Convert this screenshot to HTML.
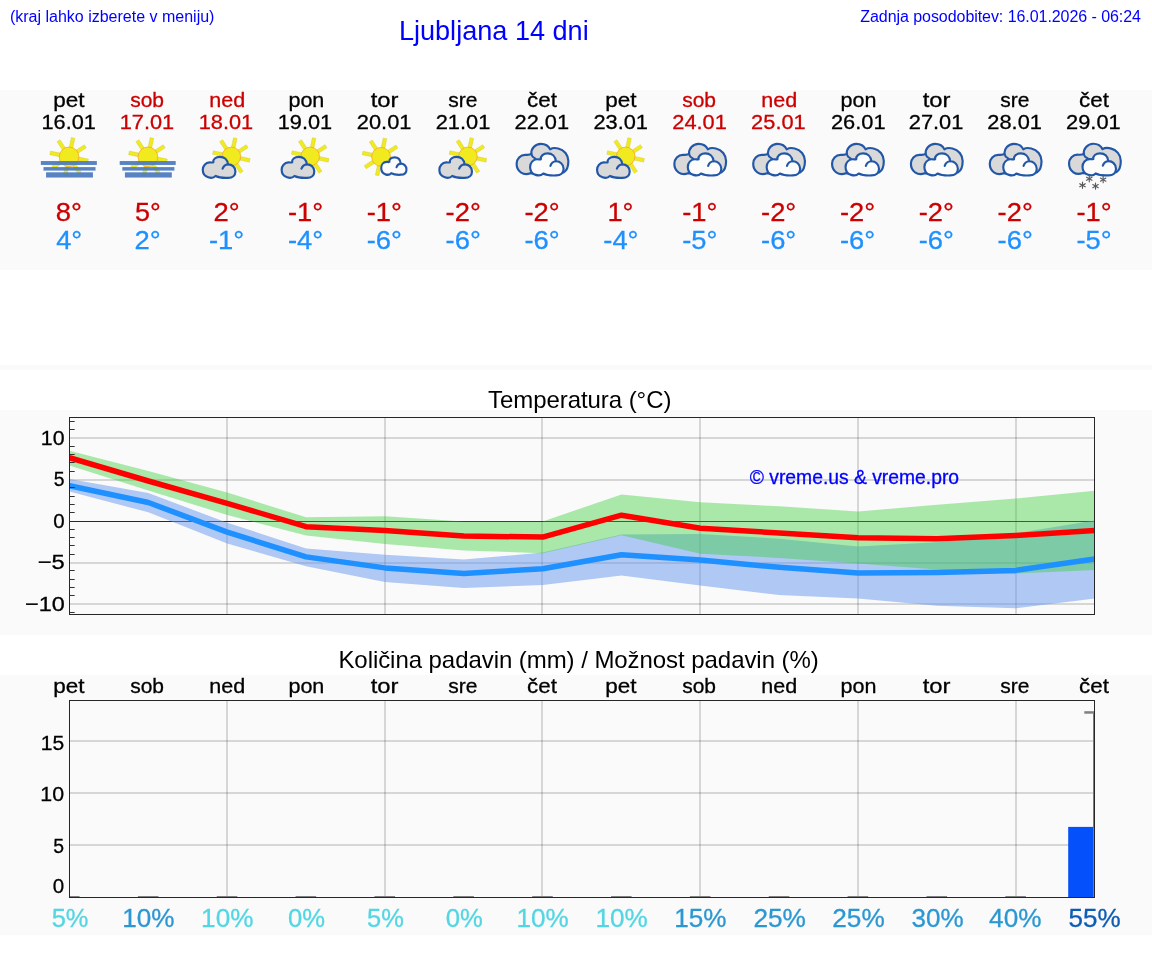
<!DOCTYPE html>
<html lang="sl"><head><meta charset="utf-8"><title>Ljubljana 14 dni</title>
<style>
html,body{margin:0;padding:0;background:#fff}
body{width:1152px;height:975px;position:relative;overflow:hidden;font-family:"Liberation Sans",sans-serif;color:#000}
.a{position:absolute;white-space:nowrap;line-height:1}
.hint{left:9.9px;top:9px;font-size:16px;color:#0000ff}
.upd{left:860.3px;top:9px;font-size:16px;letter-spacing:-.06px;color:#0000ff}
.city{left:398.9px;top:17.4px;font-size:27.1px;color:#0000ff}
.t{font-size:24px;letter-spacing:-.06px;color:#000;z-index:3}
#page{position:absolute;left:0;top:0;width:1152px;height:975px;will-change:transform}
svg{position:absolute;left:0;display:block}
svg text{font-family:"Liberation Sans",sans-serif;stroke-width:.3px}
.strip{left:0;top:365px;width:1152px;height:5px;background:#fafafa}
</style></head><body><div id="page">
<div class="a hint">(kraj lahko izberete v meniju)</div>
<div class="a city">Ljubljana 14 dni</div>
<div class="a upd">Zadnja posodobitev: 16.01.2026 - 06:24</div>
<svg style="top:90px" width="1152" height="180" viewBox="0 90 1152 180"><rect x="0" y="90" width="1152" height="180" fill="#fafafa"/><text x="53.24" y="106.5" font-size="20.5" fill="#000" stroke="#000" textLength="31.25" lengthAdjust="spacingAndGlyphs">pet</text><text x="41.53" y="129.2" font-size="20.9" fill="#000" stroke="#000" textLength="54.45" lengthAdjust="spacingAndGlyphs">16.01</text><g transform="translate(30 135) scale(0.08681)"><rect x="111" y="-21" width="112" height="42" fill="#f0ea1e" stroke="#c9c43a" stroke-width="4" transform="translate(450 252) rotate(12)"/><rect x="111" y="-21" width="112" height="42" fill="#f0ea1e" stroke="#c9c43a" stroke-width="4" transform="translate(450 252) rotate(57)"/><rect x="111" y="-21" width="112" height="42" fill="#f0ea1e" stroke="#c9c43a" stroke-width="4" transform="translate(450 252) rotate(102)"/><rect x="111" y="-21" width="112" height="42" fill="#f0ea1e" stroke="#c9c43a" stroke-width="4" transform="translate(450 252) rotate(147)"/><rect x="111" y="-21" width="112" height="42" fill="#f0ea1e" stroke="#c9c43a" stroke-width="4" transform="translate(450 252) rotate(192)"/><rect x="111" y="-21" width="112" height="42" fill="#f0ea1e" stroke="#c9c43a" stroke-width="4" transform="translate(450 252) rotate(237)"/><rect x="111" y="-21" width="112" height="42" fill="#f0ea1e" stroke="#c9c43a" stroke-width="4" transform="translate(450 252) rotate(282)"/><rect x="111" y="-21" width="112" height="42" fill="#f0ea1e" stroke="#c9c43a" stroke-width="4" transform="translate(450 252) rotate(327)"/><circle cx="450" cy="252" r="113" fill="#f0ea1e" stroke="#f6a723" stroke-width="9"/><rect x="125" y="300" width="645" height="45" fill="#4a7abf" opacity=".93"/><rect x="155" y="370" width="600" height="40" fill="#4a7abf" opacity=".93"/><rect x="185" y="430" width="540" height="60" fill="#4a7abf" opacity=".93"/></g><text x="55.83" y="220.8" font-size="25.9" fill="#cc0000" stroke="#cc0000" textLength="26.17" lengthAdjust="spacingAndGlyphs">8°</text><text x="56.19" y="249" font-size="25.9" fill="#1e90ff" stroke="#1e90ff" textLength="26.01" lengthAdjust="spacingAndGlyphs">4°</text><text x="130.2" y="106.5" font-size="20.5" fill="#cc0000" stroke="#cc0000" textLength="33.79" lengthAdjust="spacingAndGlyphs">sob</text><text x="119.69" y="129.2" font-size="20.9" fill="#cc0000" stroke="#cc0000" textLength="54.45" lengthAdjust="spacingAndGlyphs">17.01</text><g transform="translate(108.86 135) scale(0.08681)"><rect x="111" y="-21" width="112" height="42" fill="#f0ea1e" stroke="#c9c43a" stroke-width="4" transform="translate(450 252) rotate(12)"/><rect x="111" y="-21" width="112" height="42" fill="#f0ea1e" stroke="#c9c43a" stroke-width="4" transform="translate(450 252) rotate(57)"/><rect x="111" y="-21" width="112" height="42" fill="#f0ea1e" stroke="#c9c43a" stroke-width="4" transform="translate(450 252) rotate(102)"/><rect x="111" y="-21" width="112" height="42" fill="#f0ea1e" stroke="#c9c43a" stroke-width="4" transform="translate(450 252) rotate(147)"/><rect x="111" y="-21" width="112" height="42" fill="#f0ea1e" stroke="#c9c43a" stroke-width="4" transform="translate(450 252) rotate(192)"/><rect x="111" y="-21" width="112" height="42" fill="#f0ea1e" stroke="#c9c43a" stroke-width="4" transform="translate(450 252) rotate(237)"/><rect x="111" y="-21" width="112" height="42" fill="#f0ea1e" stroke="#c9c43a" stroke-width="4" transform="translate(450 252) rotate(282)"/><rect x="111" y="-21" width="112" height="42" fill="#f0ea1e" stroke="#c9c43a" stroke-width="4" transform="translate(450 252) rotate(327)"/><circle cx="450" cy="252" r="113" fill="#f0ea1e" stroke="#f6a723" stroke-width="9"/><rect x="125" y="300" width="645" height="45" fill="#4a7abf" opacity=".93"/><rect x="155" y="370" width="600" height="40" fill="#4a7abf" opacity=".93"/><rect x="185" y="430" width="540" height="60" fill="#4a7abf" opacity=".93"/></g><text x="134.92" y="220.8" font-size="25.9" fill="#cc0000" stroke="#cc0000" textLength="25.8" lengthAdjust="spacingAndGlyphs">5°</text><text x="134.59" y="249" font-size="25.9" fill="#1e90ff" stroke="#1e90ff" textLength="26.2" lengthAdjust="spacingAndGlyphs">2°</text><text x="209.23" y="106.5" font-size="20.5" fill="#cc0000" stroke="#cc0000" textLength="35.95" lengthAdjust="spacingAndGlyphs">ned</text><text x="198.7" y="129.2" font-size="20.9" fill="#cc0000" stroke="#cc0000" textLength="54.45" lengthAdjust="spacingAndGlyphs">18.01</text><g transform="translate(190.02 135) scale(0.08681)"><rect x="105" y="-21" width="112" height="42" fill="#f0ea1e" stroke="#c9c43a" stroke-width="4" transform="translate(476 247) rotate(12)"/><rect x="105" y="-21" width="112" height="42" fill="#f0ea1e" stroke="#c9c43a" stroke-width="4" transform="translate(476 247) rotate(57)"/><rect x="105" y="-21" width="112" height="42" fill="#f0ea1e" stroke="#c9c43a" stroke-width="4" transform="translate(476 247) rotate(102)"/><rect x="105" y="-21" width="112" height="42" fill="#f0ea1e" stroke="#c9c43a" stroke-width="4" transform="translate(476 247) rotate(147)"/><rect x="105" y="-21" width="112" height="42" fill="#f0ea1e" stroke="#c9c43a" stroke-width="4" transform="translate(476 247) rotate(192)"/><rect x="105" y="-21" width="112" height="42" fill="#f0ea1e" stroke="#c9c43a" stroke-width="4" transform="translate(476 247) rotate(237)"/><rect x="105" y="-21" width="112" height="42" fill="#f0ea1e" stroke="#c9c43a" stroke-width="4" transform="translate(476 247) rotate(282)"/><rect x="105" y="-21" width="112" height="42" fill="#f0ea1e" stroke="#c9c43a" stroke-width="4" transform="translate(476 247) rotate(327)"/><circle cx="476" cy="247" r="107" fill="#f0ea1e" stroke="#f6a723" stroke-width="9"/><g transform="translate(0 0) scale(1.0000 1.0000)"><path d="M295 472C275 492 240 497 210 487C170 475 147 440 147 400C147 355 180 318 225 316C243 315 258 320 268 315C262 280 295 252 345 252C395 252 432 285 437 338C480 335 523 370 523 420C523 465 490 493 440 493C400 495 340 495 295 472Z" fill="#d9d9d9" stroke="#2257a8" stroke-width="25" stroke-linejoin="round"/><path d="M437 338C410 340 385 360 375 388" fill="none" stroke="#2257a8" stroke-width="25" stroke-linecap="round"/></g></g><text x="213.45" y="220.8" font-size="25.9" fill="#cc0000" stroke="#cc0000" textLength="26.2" lengthAdjust="spacingAndGlyphs">2°</text><text x="209.04" y="249" font-size="25.9" fill="#1e90ff" stroke="#1e90ff" textLength="35.2" lengthAdjust="spacingAndGlyphs">-1°</text><text x="288.43" y="106.5" font-size="20.5" fill="#000" stroke="#000" textLength="35.94" lengthAdjust="spacingAndGlyphs">pon</text><text x="277.76" y="129.2" font-size="20.9" fill="#000" stroke="#000" textLength="54.45" lengthAdjust="spacingAndGlyphs">19.01</text><g transform="translate(268.88 135) scale(0.08681)"><rect x="105" y="-21" width="112" height="42" fill="#f0ea1e" stroke="#c9c43a" stroke-width="4" transform="translate(476 247) rotate(12)"/><rect x="105" y="-21" width="112" height="42" fill="#f0ea1e" stroke="#c9c43a" stroke-width="4" transform="translate(476 247) rotate(57)"/><rect x="105" y="-21" width="112" height="42" fill="#f0ea1e" stroke="#c9c43a" stroke-width="4" transform="translate(476 247) rotate(102)"/><rect x="105" y="-21" width="112" height="42" fill="#f0ea1e" stroke="#c9c43a" stroke-width="4" transform="translate(476 247) rotate(147)"/><rect x="105" y="-21" width="112" height="42" fill="#f0ea1e" stroke="#c9c43a" stroke-width="4" transform="translate(476 247) rotate(192)"/><rect x="105" y="-21" width="112" height="42" fill="#f0ea1e" stroke="#c9c43a" stroke-width="4" transform="translate(476 247) rotate(237)"/><rect x="105" y="-21" width="112" height="42" fill="#f0ea1e" stroke="#c9c43a" stroke-width="4" transform="translate(476 247) rotate(282)"/><rect x="105" y="-21" width="112" height="42" fill="#f0ea1e" stroke="#c9c43a" stroke-width="4" transform="translate(476 247) rotate(327)"/><circle cx="476" cy="247" r="107" fill="#f0ea1e" stroke="#f6a723" stroke-width="9"/><g transform="translate(0 0) scale(1.0000 1.0000)"><path d="M295 472C275 492 240 497 210 487C170 475 147 440 147 400C147 355 180 318 225 316C243 315 258 320 268 315C262 280 295 252 345 252C395 252 432 285 437 338C480 335 523 370 523 420C523 465 490 493 440 493C400 495 340 495 295 472Z" fill="#d9d9d9" stroke="#2257a8" stroke-width="25" stroke-linejoin="round"/><path d="M437 338C410 340 385 360 375 388" fill="none" stroke="#2257a8" stroke-width="25" stroke-linecap="round"/></g></g><text x="287.9" y="220.8" font-size="25.9" fill="#cc0000" stroke="#cc0000" textLength="35.2" lengthAdjust="spacingAndGlyphs">-1°</text><text x="287.9" y="249" font-size="25.9" fill="#1e90ff" stroke="#1e90ff" textLength="35.2" lengthAdjust="spacingAndGlyphs">-4°</text><text x="370.67" y="106.5" font-size="20.5" fill="#000" stroke="#000" textLength="27.76" lengthAdjust="spacingAndGlyphs">tor</text><text x="356.84" y="129.2" font-size="20.9" fill="#000" stroke="#000" textLength="54.58" lengthAdjust="spacingAndGlyphs">20.01</text><g transform="translate(345.04 135) scale(0.08681)"><rect x="106" y="-21" width="112" height="42" fill="#f0ea1e" stroke="#c9c43a" stroke-width="4" transform="translate(415 252) rotate(12)"/><rect x="106" y="-21" width="112" height="42" fill="#f0ea1e" stroke="#c9c43a" stroke-width="4" transform="translate(415 252) rotate(57)"/><rect x="106" y="-21" width="112" height="42" fill="#f0ea1e" stroke="#c9c43a" stroke-width="4" transform="translate(415 252) rotate(102)"/><rect x="106" y="-21" width="112" height="42" fill="#f0ea1e" stroke="#c9c43a" stroke-width="4" transform="translate(415 252) rotate(147)"/><rect x="106" y="-21" width="112" height="42" fill="#f0ea1e" stroke="#c9c43a" stroke-width="4" transform="translate(415 252) rotate(192)"/><rect x="106" y="-21" width="112" height="42" fill="#f0ea1e" stroke="#c9c43a" stroke-width="4" transform="translate(415 252) rotate(237)"/><rect x="106" y="-21" width="112" height="42" fill="#f0ea1e" stroke="#c9c43a" stroke-width="4" transform="translate(415 252) rotate(282)"/><rect x="106" y="-21" width="112" height="42" fill="#f0ea1e" stroke="#c9c43a" stroke-width="4" transform="translate(415 252) rotate(327)"/><circle cx="415" cy="252" r="108" fill="#f0ea1e" stroke="#f6a723" stroke-width="9"/><g transform="translate(303.32 47) scale(0.7733 0.8333)"><path d="M295 472C275 492 240 497 210 487C170 475 147 440 147 400C147 355 180 318 225 316C243 315 258 320 268 315C262 280 295 252 345 252C395 252 432 285 437 338C480 335 523 370 523 420C523 465 490 493 440 493C400 495 340 495 295 472Z" fill="#fcfcfc" stroke="#2257a8" stroke-width="31.12" stroke-linejoin="round"/><path d="M437 338C410 340 385 360 375 388" fill="none" stroke="#2257a8" stroke-width="31.12" stroke-linecap="round"/></g></g><text x="366.76" y="220.8" font-size="25.9" fill="#cc0000" stroke="#cc0000" textLength="35.2" lengthAdjust="spacingAndGlyphs">-1°</text><text x="366.76" y="249" font-size="25.9" fill="#1e90ff" stroke="#1e90ff" textLength="35.2" lengthAdjust="spacingAndGlyphs">-6°</text><text x="448.27" y="106.5" font-size="20.5" fill="#000" stroke="#000" textLength="29.12" lengthAdjust="spacingAndGlyphs">sre</text><text x="435.7" y="129.2" font-size="20.9" fill="#000" stroke="#000" textLength="54.58" lengthAdjust="spacingAndGlyphs">21.01</text><g transform="translate(426.6 135) scale(0.08681)"><rect x="105" y="-21" width="112" height="42" fill="#f0ea1e" stroke="#c9c43a" stroke-width="4" transform="translate(476 247) rotate(12)"/><rect x="105" y="-21" width="112" height="42" fill="#f0ea1e" stroke="#c9c43a" stroke-width="4" transform="translate(476 247) rotate(57)"/><rect x="105" y="-21" width="112" height="42" fill="#f0ea1e" stroke="#c9c43a" stroke-width="4" transform="translate(476 247) rotate(102)"/><rect x="105" y="-21" width="112" height="42" fill="#f0ea1e" stroke="#c9c43a" stroke-width="4" transform="translate(476 247) rotate(147)"/><rect x="105" y="-21" width="112" height="42" fill="#f0ea1e" stroke="#c9c43a" stroke-width="4" transform="translate(476 247) rotate(192)"/><rect x="105" y="-21" width="112" height="42" fill="#f0ea1e" stroke="#c9c43a" stroke-width="4" transform="translate(476 247) rotate(237)"/><rect x="105" y="-21" width="112" height="42" fill="#f0ea1e" stroke="#c9c43a" stroke-width="4" transform="translate(476 247) rotate(282)"/><rect x="105" y="-21" width="112" height="42" fill="#f0ea1e" stroke="#c9c43a" stroke-width="4" transform="translate(476 247) rotate(327)"/><circle cx="476" cy="247" r="107" fill="#f0ea1e" stroke="#f6a723" stroke-width="9"/><g transform="translate(0 0) scale(1.0000 1.0000)"><path d="M295 472C275 492 240 497 210 487C170 475 147 440 147 400C147 355 180 318 225 316C243 315 258 320 268 315C262 280 295 252 345 252C395 252 432 285 437 338C480 335 523 370 523 420C523 465 490 493 440 493C400 495 340 495 295 472Z" fill="#d9d9d9" stroke="#2257a8" stroke-width="25" stroke-linejoin="round"/><path d="M437 338C410 340 385 360 375 388" fill="none" stroke="#2257a8" stroke-width="25" stroke-linecap="round"/></g></g><text x="445.62" y="220.8" font-size="25.9" fill="#cc0000" stroke="#cc0000" textLength="35.2" lengthAdjust="spacingAndGlyphs">-2°</text><text x="445.62" y="249" font-size="25.9" fill="#1e90ff" stroke="#1e90ff" textLength="35.2" lengthAdjust="spacingAndGlyphs">-6°</text><text x="527.04" y="106.5" font-size="20.5" fill="#000" stroke="#000" textLength="29.84" lengthAdjust="spacingAndGlyphs">čet</text><text x="514.56" y="129.2" font-size="20.9" fill="#000" stroke="#000" textLength="54.58" lengthAdjust="spacingAndGlyphs">22.01</text><g transform="translate(499.96 135) scale(0.08681)"><path d="M350 440C320 452 270 450 240 430C205 405 192 370 192 330C192 275 235 228 290 228C320 228 345 232 362 218C355 160 405 102 470 102C520 102 560 125 578 165C600 150 640 148 670 155C740 170 788 230 788 300C788 360 770 410 735 430L540 445Z" fill="#d9d9d9" stroke="#2257a8" stroke-width="25" stroke-linejoin="round"/><path d="M362 218C368 248 385 264 410 272" fill="none" stroke="#2257a8" stroke-width="22" stroke-linecap="round"/><g transform="translate(196.09 -53.48) scale(1.0266 1.0535)"><path d="M295 472C275 492 240 497 210 487C170 475 147 440 147 400C147 355 180 318 225 316C243 315 258 320 268 315C262 280 295 252 345 252C395 252 432 285 437 338C480 335 523 370 523 420C523 465 490 493 440 493C400 495 340 495 295 472Z" fill="#fcfcfc" stroke="#2257a8" stroke-width="24.04" stroke-linejoin="round"/><path d="M437 338C410 340 385 360 375 388" fill="none" stroke="#2257a8" stroke-width="24.04" stroke-linecap="round"/></g></g><text x="524.48" y="220.8" font-size="25.9" fill="#cc0000" stroke="#cc0000" textLength="35.2" lengthAdjust="spacingAndGlyphs">-2°</text><text x="524.48" y="249" font-size="25.9" fill="#1e90ff" stroke="#1e90ff" textLength="35.2" lengthAdjust="spacingAndGlyphs">-6°</text><text x="605.26" y="106.5" font-size="20.5" fill="#000" stroke="#000" textLength="31.25" lengthAdjust="spacingAndGlyphs">pet</text><text x="593.42" y="129.2" font-size="20.9" fill="#000" stroke="#000" textLength="54.58" lengthAdjust="spacingAndGlyphs">23.01</text><g transform="translate(584.32 135) scale(0.08681)"><rect x="105" y="-21" width="112" height="42" fill="#f0ea1e" stroke="#c9c43a" stroke-width="4" transform="translate(476 247) rotate(12)"/><rect x="105" y="-21" width="112" height="42" fill="#f0ea1e" stroke="#c9c43a" stroke-width="4" transform="translate(476 247) rotate(57)"/><rect x="105" y="-21" width="112" height="42" fill="#f0ea1e" stroke="#c9c43a" stroke-width="4" transform="translate(476 247) rotate(102)"/><rect x="105" y="-21" width="112" height="42" fill="#f0ea1e" stroke="#c9c43a" stroke-width="4" transform="translate(476 247) rotate(147)"/><rect x="105" y="-21" width="112" height="42" fill="#f0ea1e" stroke="#c9c43a" stroke-width="4" transform="translate(476 247) rotate(192)"/><rect x="105" y="-21" width="112" height="42" fill="#f0ea1e" stroke="#c9c43a" stroke-width="4" transform="translate(476 247) rotate(237)"/><rect x="105" y="-21" width="112" height="42" fill="#f0ea1e" stroke="#c9c43a" stroke-width="4" transform="translate(476 247) rotate(282)"/><rect x="105" y="-21" width="112" height="42" fill="#f0ea1e" stroke="#c9c43a" stroke-width="4" transform="translate(476 247) rotate(327)"/><circle cx="476" cy="247" r="107" fill="#f0ea1e" stroke="#f6a723" stroke-width="9"/><g transform="translate(0 0) scale(1.0000 1.0000)"><path d="M295 472C275 492 240 497 210 487C170 475 147 440 147 400C147 355 180 318 225 316C243 315 258 320 268 315C262 280 295 252 345 252C395 252 432 285 437 338C480 335 523 370 523 420C523 465 490 493 440 493C400 495 340 495 295 472Z" fill="#d9d9d9" stroke="#2257a8" stroke-width="25" stroke-linejoin="round"/><path d="M437 338C410 340 385 360 375 388" fill="none" stroke="#2257a8" stroke-width="25" stroke-linecap="round"/></g></g><text x="607.47" y="220.8" font-size="25.9" fill="#cc0000" stroke="#cc0000" textLength="26.02" lengthAdjust="spacingAndGlyphs">1°</text><text x="603.34" y="249" font-size="25.9" fill="#1e90ff" stroke="#1e90ff" textLength="35.2" lengthAdjust="spacingAndGlyphs">-4°</text><text x="682.22" y="106.5" font-size="20.5" fill="#cc0000" stroke="#cc0000" textLength="33.79" lengthAdjust="spacingAndGlyphs">sob</text><text x="672.28" y="129.2" font-size="20.9" fill="#cc0000" stroke="#cc0000" textLength="54.58" lengthAdjust="spacingAndGlyphs">24.01</text><g transform="translate(657.68 135) scale(0.08681)"><path d="M350 440C320 452 270 450 240 430C205 405 192 370 192 330C192 275 235 228 290 228C320 228 345 232 362 218C355 160 405 102 470 102C520 102 560 125 578 165C600 150 640 148 670 155C740 170 788 230 788 300C788 360 770 410 735 430L540 445Z" fill="#d9d9d9" stroke="#2257a8" stroke-width="25" stroke-linejoin="round"/><path d="M362 218C368 248 385 264 410 272" fill="none" stroke="#2257a8" stroke-width="22" stroke-linecap="round"/><g transform="translate(196.09 -53.48) scale(1.0266 1.0535)"><path d="M295 472C275 492 240 497 210 487C170 475 147 440 147 400C147 355 180 318 225 316C243 315 258 320 268 315C262 280 295 252 345 252C395 252 432 285 437 338C480 335 523 370 523 420C523 465 490 493 440 493C400 495 340 495 295 472Z" fill="#fcfcfc" stroke="#2257a8" stroke-width="24.04" stroke-linejoin="round"/><path d="M437 338C410 340 385 360 375 388" fill="none" stroke="#2257a8" stroke-width="24.04" stroke-linecap="round"/></g></g><text x="682.2" y="220.8" font-size="25.9" fill="#cc0000" stroke="#cc0000" textLength="35.2" lengthAdjust="spacingAndGlyphs">-1°</text><text x="682.2" y="249" font-size="25.9" fill="#1e90ff" stroke="#1e90ff" textLength="35.2" lengthAdjust="spacingAndGlyphs">-5°</text><text x="761.25" y="106.5" font-size="20.5" fill="#cc0000" stroke="#cc0000" textLength="35.95" lengthAdjust="spacingAndGlyphs">ned</text><text x="751.14" y="129.2" font-size="20.9" fill="#cc0000" stroke="#cc0000" textLength="54.58" lengthAdjust="spacingAndGlyphs">25.01</text><g transform="translate(736.54 135) scale(0.08681)"><path d="M350 440C320 452 270 450 240 430C205 405 192 370 192 330C192 275 235 228 290 228C320 228 345 232 362 218C355 160 405 102 470 102C520 102 560 125 578 165C600 150 640 148 670 155C740 170 788 230 788 300C788 360 770 410 735 430L540 445Z" fill="#d9d9d9" stroke="#2257a8" stroke-width="25" stroke-linejoin="round"/><path d="M362 218C368 248 385 264 410 272" fill="none" stroke="#2257a8" stroke-width="22" stroke-linecap="round"/><g transform="translate(196.09 -53.48) scale(1.0266 1.0535)"><path d="M295 472C275 492 240 497 210 487C170 475 147 440 147 400C147 355 180 318 225 316C243 315 258 320 268 315C262 280 295 252 345 252C395 252 432 285 437 338C480 335 523 370 523 420C523 465 490 493 440 493C400 495 340 495 295 472Z" fill="#fcfcfc" stroke="#2257a8" stroke-width="24.04" stroke-linejoin="round"/><path d="M437 338C410 340 385 360 375 388" fill="none" stroke="#2257a8" stroke-width="24.04" stroke-linecap="round"/></g></g><text x="761.06" y="220.8" font-size="25.9" fill="#cc0000" stroke="#cc0000" textLength="35.2" lengthAdjust="spacingAndGlyphs">-2°</text><text x="761.06" y="249" font-size="25.9" fill="#1e90ff" stroke="#1e90ff" textLength="35.2" lengthAdjust="spacingAndGlyphs">-6°</text><text x="840.45" y="106.5" font-size="20.5" fill="#000" stroke="#000" textLength="35.94" lengthAdjust="spacingAndGlyphs">pon</text><text x="830.95" y="129.2" font-size="20.9" fill="#000" stroke="#000" textLength="54.58" lengthAdjust="spacingAndGlyphs">26.01</text><g transform="translate(815.4 135) scale(0.08681)"><path d="M350 440C320 452 270 450 240 430C205 405 192 370 192 330C192 275 235 228 290 228C320 228 345 232 362 218C355 160 405 102 470 102C520 102 560 125 578 165C600 150 640 148 670 155C740 170 788 230 788 300C788 360 770 410 735 430L540 445Z" fill="#d9d9d9" stroke="#2257a8" stroke-width="25" stroke-linejoin="round"/><path d="M362 218C368 248 385 264 410 272" fill="none" stroke="#2257a8" stroke-width="22" stroke-linecap="round"/><g transform="translate(196.09 -53.48) scale(1.0266 1.0535)"><path d="M295 472C275 492 240 497 210 487C170 475 147 440 147 400C147 355 180 318 225 316C243 315 258 320 268 315C262 280 295 252 345 252C395 252 432 285 437 338C480 335 523 370 523 420C523 465 490 493 440 493C400 495 340 495 295 472Z" fill="#fcfcfc" stroke="#2257a8" stroke-width="24.04" stroke-linejoin="round"/><path d="M437 338C410 340 385 360 375 388" fill="none" stroke="#2257a8" stroke-width="24.04" stroke-linecap="round"/></g></g><text x="839.92" y="220.8" font-size="25.9" fill="#cc0000" stroke="#cc0000" textLength="35.2" lengthAdjust="spacingAndGlyphs">-2°</text><text x="839.92" y="249" font-size="25.9" fill="#1e90ff" stroke="#1e90ff" textLength="35.2" lengthAdjust="spacingAndGlyphs">-6°</text><text x="922.69" y="106.5" font-size="20.5" fill="#000" stroke="#000" textLength="27.76" lengthAdjust="spacingAndGlyphs">tor</text><text x="908.76" y="129.2" font-size="20.9" fill="#000" stroke="#000" textLength="54.58" lengthAdjust="spacingAndGlyphs">27.01</text><g transform="translate(894.26 135) scale(0.08681)"><path d="M350 440C320 452 270 450 240 430C205 405 192 370 192 330C192 275 235 228 290 228C320 228 345 232 362 218C355 160 405 102 470 102C520 102 560 125 578 165C600 150 640 148 670 155C740 170 788 230 788 300C788 360 770 410 735 430L540 445Z" fill="#d9d9d9" stroke="#2257a8" stroke-width="25" stroke-linejoin="round"/><path d="M362 218C368 248 385 264 410 272" fill="none" stroke="#2257a8" stroke-width="22" stroke-linecap="round"/><g transform="translate(196.09 -53.48) scale(1.0266 1.0535)"><path d="M295 472C275 492 240 497 210 487C170 475 147 440 147 400C147 355 180 318 225 316C243 315 258 320 268 315C262 280 295 252 345 252C395 252 432 285 437 338C480 335 523 370 523 420C523 465 490 493 440 493C400 495 340 495 295 472Z" fill="#fcfcfc" stroke="#2257a8" stroke-width="24.04" stroke-linejoin="round"/><path d="M437 338C410 340 385 360 375 388" fill="none" stroke="#2257a8" stroke-width="24.04" stroke-linecap="round"/></g></g><text x="918.78" y="220.8" font-size="25.9" fill="#cc0000" stroke="#cc0000" textLength="35.2" lengthAdjust="spacingAndGlyphs">-2°</text><text x="918.78" y="249" font-size="25.9" fill="#1e90ff" stroke="#1e90ff" textLength="35.2" lengthAdjust="spacingAndGlyphs">-6°</text><text x="1000.29" y="106.5" font-size="20.5" fill="#000" stroke="#000" textLength="29.12" lengthAdjust="spacingAndGlyphs">sre</text><text x="987.32" y="129.2" font-size="20.9" fill="#000" stroke="#000" textLength="54.58" lengthAdjust="spacingAndGlyphs">28.01</text><g transform="translate(973.12 135) scale(0.08681)"><path d="M350 440C320 452 270 450 240 430C205 405 192 370 192 330C192 275 235 228 290 228C320 228 345 232 362 218C355 160 405 102 470 102C520 102 560 125 578 165C600 150 640 148 670 155C740 170 788 230 788 300C788 360 770 410 735 430L540 445Z" fill="#d9d9d9" stroke="#2257a8" stroke-width="25" stroke-linejoin="round"/><path d="M362 218C368 248 385 264 410 272" fill="none" stroke="#2257a8" stroke-width="22" stroke-linecap="round"/><g transform="translate(196.09 -53.48) scale(1.0266 1.0535)"><path d="M295 472C275 492 240 497 210 487C170 475 147 440 147 400C147 355 180 318 225 316C243 315 258 320 268 315C262 280 295 252 345 252C395 252 432 285 437 338C480 335 523 370 523 420C523 465 490 493 440 493C400 495 340 495 295 472Z" fill="#fcfcfc" stroke="#2257a8" stroke-width="24.04" stroke-linejoin="round"/><path d="M437 338C410 340 385 360 375 388" fill="none" stroke="#2257a8" stroke-width="24.04" stroke-linecap="round"/></g></g><text x="997.64" y="220.8" font-size="25.9" fill="#cc0000" stroke="#cc0000" textLength="35.2" lengthAdjust="spacingAndGlyphs">-2°</text><text x="997.64" y="249" font-size="25.9" fill="#1e90ff" stroke="#1e90ff" textLength="35.2" lengthAdjust="spacingAndGlyphs">-6°</text><text x="1079.06" y="106.5" font-size="20.5" fill="#000" stroke="#000" textLength="29.84" lengthAdjust="spacingAndGlyphs">čet</text><text x="1066.08" y="129.2" font-size="20.9" fill="#000" stroke="#000" textLength="54.58" lengthAdjust="spacingAndGlyphs">29.01</text><g transform="translate(1052.38 134.9) scale(0.08681)"><path d="M350 440C320 452 270 450 240 430C205 405 192 370 192 330C192 275 235 228 290 228C320 228 345 232 362 218C355 160 405 102 470 102C520 102 560 125 578 165C600 150 640 148 670 155C740 170 788 230 788 300C788 360 770 410 735 430L540 445Z" fill="#d9d9d9" stroke="#2257a8" stroke-width="25" stroke-linejoin="round"/><path d="M362 218C368 248 385 264 410 272" fill="none" stroke="#2257a8" stroke-width="22" stroke-linecap="round"/><g transform="translate(196.09 -53.48) scale(1.0266 1.0535)"><path d="M295 472C275 492 240 497 210 487C170 475 147 440 147 400C147 355 180 318 225 316C243 315 258 320 268 315C262 280 295 252 345 252C395 252 432 285 437 338C480 335 523 370 523 420C523 465 490 493 440 493C400 495 340 495 295 472Z" fill="#fcfcfc" stroke="#2257a8" stroke-width="24.04" stroke-linejoin="round"/><path d="M437 338C410 340 385 360 375 388" fill="none" stroke="#2257a8" stroke-width="24.04" stroke-linecap="round"/></g><line x1="-36" y1="0" x2="36" y2="0" stroke="#5a5a5a" stroke-width="13" stroke-linecap="round" transform="translate(425 505) rotate(90)"/><line x1="-36" y1="0" x2="36" y2="0" stroke="#5a5a5a" stroke-width="13" stroke-linecap="round" transform="translate(425 505) rotate(30)"/><line x1="-36" y1="0" x2="36" y2="0" stroke="#5a5a5a" stroke-width="13" stroke-linecap="round" transform="translate(425 505) rotate(150)"/><line x1="-36" y1="0" x2="36" y2="0" stroke="#5a5a5a" stroke-width="13" stroke-linecap="round" transform="translate(585 515) rotate(90)"/><line x1="-36" y1="0" x2="36" y2="0" stroke="#5a5a5a" stroke-width="13" stroke-linecap="round" transform="translate(585 515) rotate(30)"/><line x1="-36" y1="0" x2="36" y2="0" stroke="#5a5a5a" stroke-width="13" stroke-linecap="round" transform="translate(585 515) rotate(150)"/><line x1="-36" y1="0" x2="36" y2="0" stroke="#5a5a5a" stroke-width="13" stroke-linecap="round" transform="translate(347 580) rotate(90)"/><line x1="-36" y1="0" x2="36" y2="0" stroke="#5a5a5a" stroke-width="13" stroke-linecap="round" transform="translate(347 580) rotate(30)"/><line x1="-36" y1="0" x2="36" y2="0" stroke="#5a5a5a" stroke-width="13" stroke-linecap="round" transform="translate(347 580) rotate(150)"/><line x1="-36" y1="0" x2="36" y2="0" stroke="#5a5a5a" stroke-width="13" stroke-linecap="round" transform="translate(497 590) rotate(90)"/><line x1="-36" y1="0" x2="36" y2="0" stroke="#5a5a5a" stroke-width="13" stroke-linecap="round" transform="translate(497 590) rotate(30)"/><line x1="-36" y1="0" x2="36" y2="0" stroke="#5a5a5a" stroke-width="13" stroke-linecap="round" transform="translate(497 590) rotate(150)"/></g><text x="1076.5" y="220.8" font-size="25.9" fill="#cc0000" stroke="#cc0000" textLength="35.2" lengthAdjust="spacingAndGlyphs">-1°</text><text x="1076.5" y="249" font-size="25.9" fill="#1e90ff" stroke="#1e90ff" textLength="35.2" lengthAdjust="spacingAndGlyphs">-5°</text></svg>
<div class="a strip"></div>
<div class="a t" style="left:488px;top:387.7px">Temperatura (°C)</div>
<svg style="top:410px" width="1152" height="225" viewBox="0 410 1152 225"><rect x="0" y="410" width="1152" height="225" fill="#fafafa"/><defs><clipPath id="c2"><rect x="69.5" y="417.5" width="1025.0" height="197.0"/></clipPath></defs><g stroke="#000" stroke-opacity=".142" stroke-width="2"><line x1="69.5" x2="1094.5" y1="438" y2="438"/><line x1="69.5" x2="1094.5" y1="480" y2="480"/><line x1="69.5" x2="1094.5" y1="563" y2="563"/><line x1="69.5" x2="1094.5" y1="604" y2="604"/></g><g stroke="#000" stroke-opacity=".142" stroke-width="2"><line x1="227" x2="227" y1="417.5" y2="614.5"/><line x1="385" x2="385" y1="417.5" y2="614.5"/><line x1="542" x2="542" y1="417.5" y2="614.5"/><line x1="700" x2="700" y1="417.5" y2="614.5"/><line x1="858" x2="858" y1="417.5" y2="614.5"/><line x1="1016" x2="1016" y1="417.5" y2="614.5"/></g><line x1="69.5" x2="1094.5" y1="521.5" y2="521.5" stroke="#2a2a2a" stroke-width="1"/><g clip-path="url(#c2)"><polygon points="69.5,479 148.36,493.1 227.22,522.7 306.08,548.5 384.94,554.8 463.8,559.6 542.66,552.6 621.52,534.6 700.38,534 779.24,538.75 858.1,546.5 936.96,542.3 1015.82,533.3 1094.68,520.4 1094.68,598.5 1015.82,608.3 936.96,605.8 858.1,598.5 779.24,595 700.38,585.6 621.52,575.6 542.66,585 463.8,588.1 384.94,581.9 306.08,566.25 227.22,543.5 148.36,512.3 69.5,491.5" fill="#6495ed" fill-opacity=".5"/><polygon points="69.5,450.8 148.36,471 227.22,492.5 306.08,517.3 384.94,516.25 463.8,521.5 542.66,521.5 621.52,494.4 700.38,502.3 779.24,506.25 858.1,511.5 936.96,504.8 1015.82,498.5 1094.68,490.8 1094.68,570 1015.82,573.5 936.96,569.4 858.1,563.5 779.24,557.9 700.38,553.75 621.52,535.2 542.66,553.2 463.8,550.6 384.94,544 306.08,535.4 227.22,515 148.36,490.4 69.5,465.4" fill="#32cd32" fill-opacity=".4"/><polyline points="69.5,485.8 148.36,502.5 227.22,532.1 306.08,556.9 384.94,567.9 463.8,573.5 542.66,568.75 621.52,554.8 700.38,560 779.24,567.3 858.1,573.1 936.96,572.5 1015.82,570.4 1094.68,559" fill="none" stroke="#1e90ff" stroke-width="5.5" stroke-linejoin="round"/><polyline points="69.5,457.7 148.36,481 227.22,503.3 306.08,526.7 384.94,530.4 463.8,536 542.66,537.1 621.52,515.2 700.38,528.3 779.24,532.9 858.1,537.7 936.96,538.75 1015.82,535.4 1094.68,530.4" fill="none" stroke="#ff0000" stroke-width="5.5" stroke-linejoin="round"/></g><g stroke="#333" stroke-width="1"><line x1="69.5" x2="74.7" y1="612.5" y2="612.5"/><line x1="69.5" x2="74.7" y1="595.5" y2="595.5"/><line x1="69.5" x2="74.7" y1="587.5" y2="587.5"/><line x1="69.5" x2="74.7" y1="579.5" y2="579.5"/><line x1="69.5" x2="74.7" y1="570.5" y2="570.5"/><line x1="69.5" x2="74.7" y1="554.5" y2="554.5"/><line x1="69.5" x2="74.7" y1="545.5" y2="545.5"/><line x1="69.5" x2="74.7" y1="537.5" y2="537.5"/><line x1="69.5" x2="74.7" y1="529.5" y2="529.5"/><line x1="69.5" x2="74.7" y1="512.5" y2="512.5"/><line x1="69.5" x2="74.7" y1="504.5" y2="504.5"/><line x1="69.5" x2="74.7" y1="496.5" y2="496.5"/><line x1="69.5" x2="74.7" y1="487.5" y2="487.5"/><line x1="69.5" x2="74.7" y1="471.5" y2="471.5"/><line x1="69.5" x2="74.7" y1="462.5" y2="462.5"/><line x1="69.5" x2="74.7" y1="454.5" y2="454.5"/><line x1="69.5" x2="74.7" y1="446.5" y2="446.5"/><line x1="69.5" x2="74.7" y1="429.5" y2="429.5"/><line x1="69.5" x2="74.7" y1="421.5" y2="421.5"/></g><rect x="69.5" y="417.5" width="1025.0" height="197.0" fill="none" stroke="#262626" stroke-width="1"/><text x="40.84" y="444.75" font-size="20.9" fill="#000" stroke="#000" textLength="23.79" lengthAdjust="spacingAndGlyphs">10</text><text x="53.82" y="486.22" font-size="20.9" fill="#000" stroke="#000" textLength="10.81" lengthAdjust="spacingAndGlyphs">5</text><text x="53.19" y="527.7" font-size="20.9" fill="#000" stroke="#000" textLength="11.42" lengthAdjust="spacingAndGlyphs">0</text><text x="37.73" y="569.17" font-size="20.9" fill="#000" stroke="#000" textLength="27.11" lengthAdjust="spacingAndGlyphs">−5</text><text x="24.98" y="610.65" font-size="20.9" fill="#000" stroke="#000" textLength="39.75" lengthAdjust="spacingAndGlyphs">−10</text><text x="749.7" y="483.8" font-size="19.44" fill="#0000ff" stroke="#0000ff" stroke-width=".25" textLength="209.4" lengthAdjust="spacingAndGlyphs">© vreme.us &amp; vreme.pro</text></svg>
<div class="a t" style="left:338.4px;top:648.2px">Količina padavin (mm) / Možnost padavin (%)</div>
<svg style="top:675px" width="1152" height="260" viewBox="0 675 1152 260"><rect x="0" y="675" width="1152" height="260" fill="#fafafa"/><text x="53.24" y="693.4" font-size="20.5" fill="#000" stroke="#000" textLength="31.25" lengthAdjust="spacingAndGlyphs">pet</text><text x="130.2" y="693.4" font-size="20.5" fill="#000" stroke="#000" textLength="33.79" lengthAdjust="spacingAndGlyphs">sob</text><text x="209.23" y="693.4" font-size="20.5" fill="#000" stroke="#000" textLength="35.95" lengthAdjust="spacingAndGlyphs">ned</text><text x="288.43" y="693.4" font-size="20.5" fill="#000" stroke="#000" textLength="35.94" lengthAdjust="spacingAndGlyphs">pon</text><text x="370.67" y="693.4" font-size="20.5" fill="#000" stroke="#000" textLength="27.76" lengthAdjust="spacingAndGlyphs">tor</text><text x="448.27" y="693.4" font-size="20.5" fill="#000" stroke="#000" textLength="29.12" lengthAdjust="spacingAndGlyphs">sre</text><text x="527.04" y="693.4" font-size="20.5" fill="#000" stroke="#000" textLength="29.84" lengthAdjust="spacingAndGlyphs">čet</text><text x="605.26" y="693.4" font-size="20.5" fill="#000" stroke="#000" textLength="31.25" lengthAdjust="spacingAndGlyphs">pet</text><text x="682.22" y="693.4" font-size="20.5" fill="#000" stroke="#000" textLength="33.79" lengthAdjust="spacingAndGlyphs">sob</text><text x="761.25" y="693.4" font-size="20.5" fill="#000" stroke="#000" textLength="35.95" lengthAdjust="spacingAndGlyphs">ned</text><text x="840.45" y="693.4" font-size="20.5" fill="#000" stroke="#000" textLength="35.94" lengthAdjust="spacingAndGlyphs">pon</text><text x="922.69" y="693.4" font-size="20.5" fill="#000" stroke="#000" textLength="27.76" lengthAdjust="spacingAndGlyphs">tor</text><text x="1000.29" y="693.4" font-size="20.5" fill="#000" stroke="#000" textLength="29.12" lengthAdjust="spacingAndGlyphs">sre</text><text x="1079.06" y="693.4" font-size="20.5" fill="#000" stroke="#000" textLength="29.84" lengthAdjust="spacingAndGlyphs">čet</text><g stroke="#000" stroke-opacity=".142" stroke-width="2"><line x1="69.5" x2="1094.5" y1="845" y2="845"/><line x1="69.5" x2="1094.5" y1="793" y2="793"/><line x1="69.5" x2="1094.5" y1="741" y2="741"/></g><g stroke="#000" stroke-opacity=".142" stroke-width="2"><line x1="227" x2="227" y1="700.5" y2="897.5"/><line x1="385" x2="385" y1="700.5" y2="897.5"/><line x1="542" x2="542" y1="700.5" y2="897.5"/><line x1="700" x2="700" y1="700.5" y2="897.5"/><line x1="858" x2="858" y1="700.5" y2="897.5"/><line x1="1016" x2="1016" y1="700.5" y2="897.5"/></g><rect x="1068.2" y="826.9" width="25.8" height="70.6" fill="#0450fb"/><rect x="1093" y="712" width="1.1" height="185" fill="#7a7a7a"/><rect x="1084.3" y="711.2" width="9.8" height="2.5" fill="#808080"/><g stroke="#808080" stroke-width="1"><line x1="69.5" x2="79.6" y1="896.5" y2="896.5"/><line x1="137.86" x2="158.46" y1="896.5" y2="896.5"/><line x1="216.72" x2="237.32" y1="896.5" y2="896.5"/><line x1="295.58" x2="316.18" y1="896.5" y2="896.5"/><line x1="374.44" x2="395.04" y1="896.5" y2="896.5"/><line x1="453.3" x2="473.9" y1="896.5" y2="896.5"/><line x1="532.16" x2="552.76" y1="896.5" y2="896.5"/><line x1="611.02" x2="631.62" y1="896.5" y2="896.5"/><line x1="689.88" x2="710.48" y1="896.5" y2="896.5"/><line x1="768.74" x2="789.34" y1="896.5" y2="896.5"/><line x1="847.6" x2="868.2" y1="896.5" y2="896.5"/><line x1="926.46" x2="947.06" y1="896.5" y2="896.5"/><line x1="1005.32" x2="1025.92" y1="896.5" y2="896.5"/></g><rect x="69.5" y="700.5" width="1025.0" height="197.0" fill="none" stroke="#262626" stroke-width="1"/><text x="40.75" y="749.8" font-size="20.9" fill="#000" stroke="#000" textLength="23.44" lengthAdjust="spacingAndGlyphs">15</text><text x="40.34" y="801.3" font-size="20.9" fill="#000" stroke="#000" textLength="23.79" lengthAdjust="spacingAndGlyphs">10</text><text x="53.32" y="853" font-size="20.9" fill="#000" stroke="#000" textLength="10.81" lengthAdjust="spacingAndGlyphs">5</text><text x="52.69" y="893.2" font-size="20.9" fill="#000" stroke="#000" textLength="11.42" lengthAdjust="spacingAndGlyphs">0</text><text x="51.64" y="926.6" font-size="25.9" fill="#52d6e4" stroke="#52d6e4" textLength="36.8" lengthAdjust="spacingAndGlyphs">5%</text><text x="122.28" y="926.6" font-size="25.9" fill="#2b97d3" stroke="#2b97d3" textLength="52.27" lengthAdjust="spacingAndGlyphs">10%</text><text x="201.14" y="926.6" font-size="25.9" fill="#52d6e4" stroke="#52d6e4" textLength="52.27" lengthAdjust="spacingAndGlyphs">10%</text><text x="288.09" y="926.6" font-size="25.9" fill="#52d6e4" stroke="#52d6e4" textLength="37.05" lengthAdjust="spacingAndGlyphs">0%</text><text x="367.08" y="926.6" font-size="25.9" fill="#52d6e4" stroke="#52d6e4" textLength="36.8" lengthAdjust="spacingAndGlyphs">5%</text><text x="445.81" y="926.6" font-size="25.9" fill="#52d6e4" stroke="#52d6e4" textLength="37.05" lengthAdjust="spacingAndGlyphs">0%</text><text x="516.58" y="926.6" font-size="25.9" fill="#52d6e4" stroke="#52d6e4" textLength="52.27" lengthAdjust="spacingAndGlyphs">10%</text><text x="595.44" y="926.6" font-size="25.9" fill="#52d6e4" stroke="#52d6e4" textLength="52.27" lengthAdjust="spacingAndGlyphs">10%</text><text x="674.3" y="926.6" font-size="25.9" fill="#2b97d3" stroke="#2b97d3" textLength="52.27" lengthAdjust="spacingAndGlyphs">15%</text><text x="753.41" y="926.6" font-size="25.9" fill="#2b97d3" stroke="#2b97d3" textLength="52.46" lengthAdjust="spacingAndGlyphs">25%</text><text x="832.27" y="926.6" font-size="25.9" fill="#2b97d3" stroke="#2b97d3" textLength="52.46" lengthAdjust="spacingAndGlyphs">25%</text><text x="911.44" y="926.6" font-size="25.9" fill="#2b97d3" stroke="#2b97d3" textLength="52.11" lengthAdjust="spacingAndGlyphs">30%</text><text x="989.11" y="926.6" font-size="25.9" fill="#2b97d3" stroke="#2b97d3" textLength="52.32" lengthAdjust="spacingAndGlyphs">40%</text><text x="1068.46" y="926.6" font-size="25.9" fill="#0d5cb6" stroke="#0d5cb6" textLength="52.11" lengthAdjust="spacingAndGlyphs">55%</text></svg>
</div></body></html>
